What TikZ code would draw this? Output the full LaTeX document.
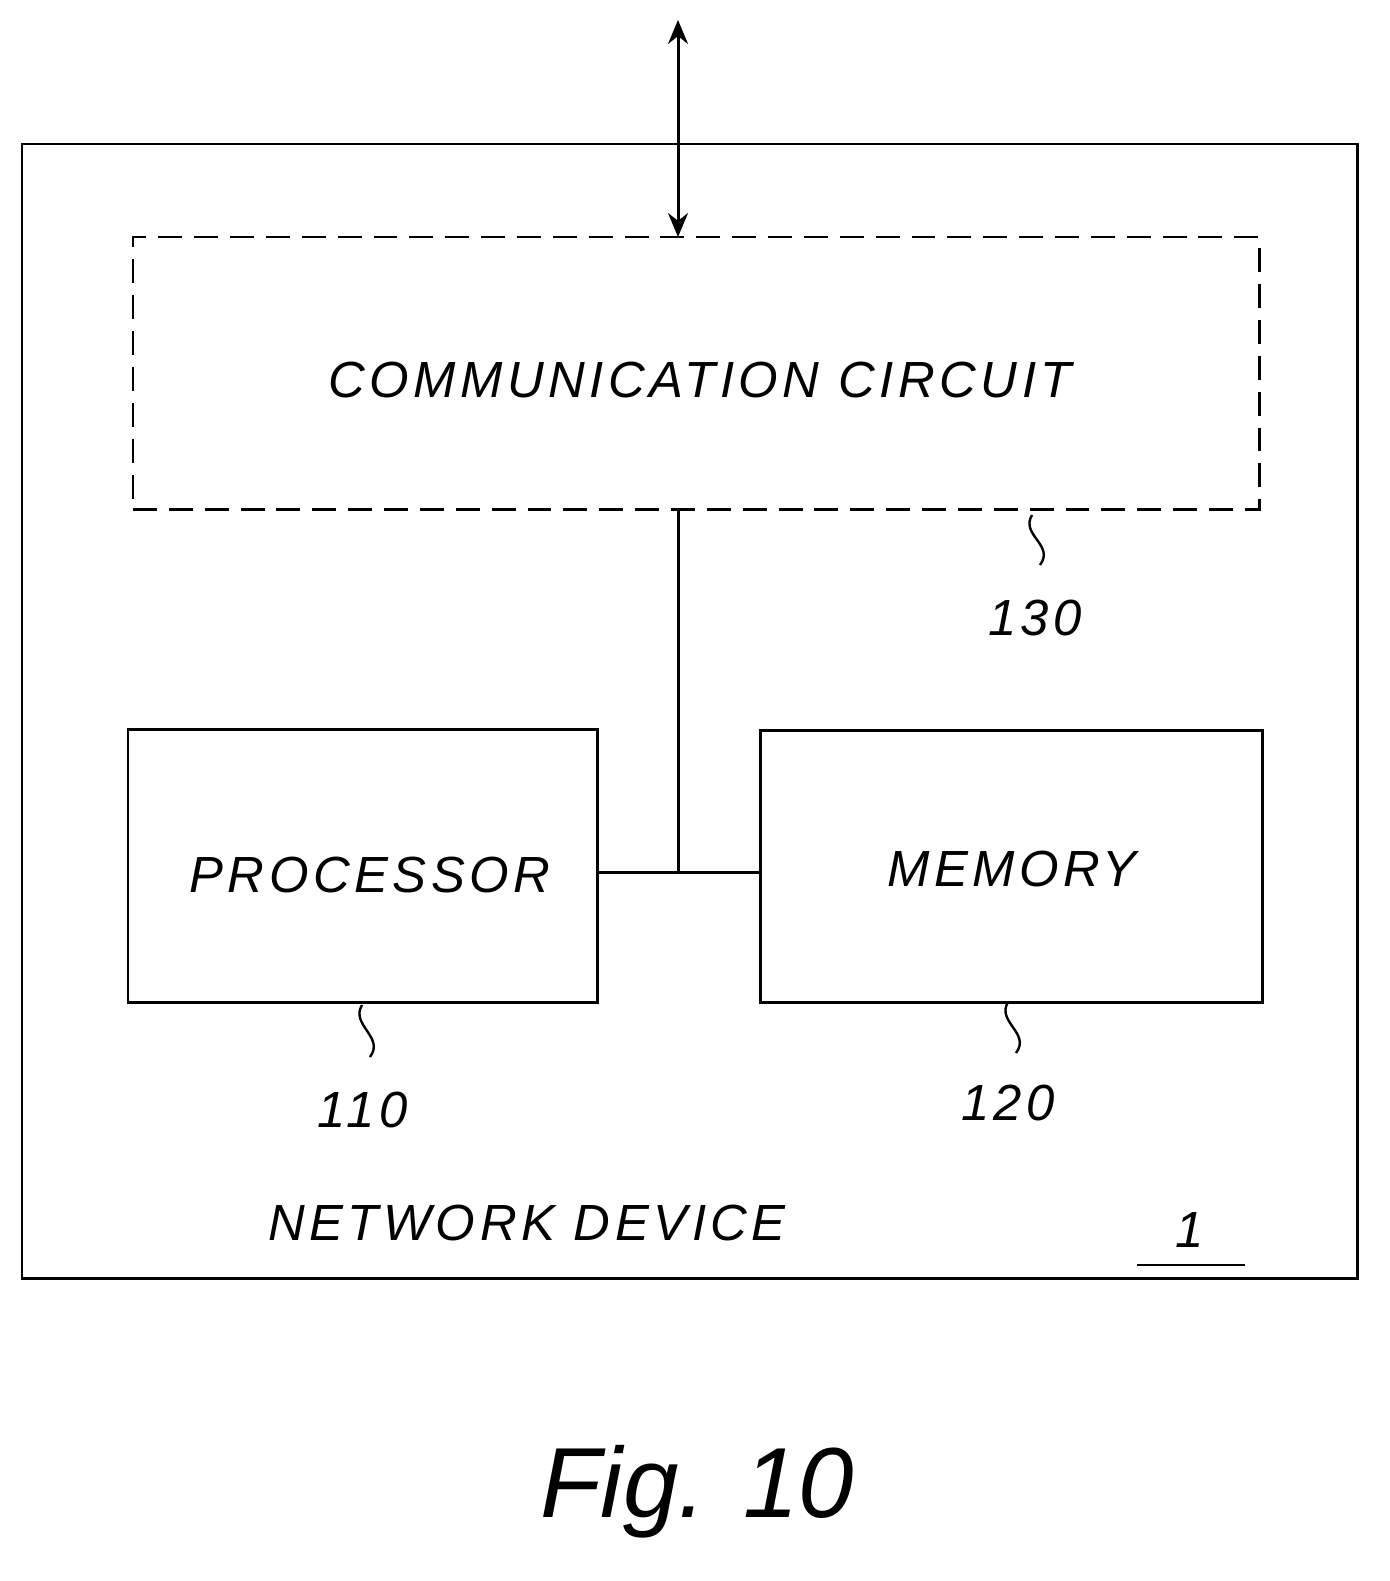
\documentclass[tikz,border=0pt]{standalone}
\usepackage{fontspec}
\setmainfont{Liberation Sans}
\usetikzlibrary{arrows.meta}
\begin{document}
\begin{tikzpicture}[x=1bp,y=-1bp,line width=3pt,
  lbl/.style={font=\fontsize{51}{55}\selectfont\itshape\addfontfeatures{LetterSpace=9},inner sep=0pt},
  box/.style={draw,inner sep=0pt},
  sq/.style={line width=2.4pt}]
\useasboundingbox (0,0) rectangle (1390,1581);
\draw (22,144) rectangle (1357,1278);
\node[box,dashed,dash pattern=on 24pt off 12pt,minimum width=1126bp,minimum height=272bp] (comm) at (696,373) {};
\node[lbl] at (700,380) {COMMUNICATION CIRCUIT};
\node[box,minimum width=469bp,minimum height=273bp] (proc) at (362.5,865.5) {};
\node[lbl] at (370,875) {PROCESSOR};
\node[box,minimum width=502bp,minimum height=272bp] (mem) at (1011,866) {};
\node[lbl] at (1012,869) {MEMORY};
\coordinate (top) at (678,20);
\coordinate (ctop) at (678,237);
\coordinate (cbot) at (678,509);
\coordinate (j) at (678,872);
\draw[{Stealth[length=24pt,width=20pt]}-{Stealth[length=24pt,width=20pt]}] (ctop) -- (top);
\draw (cbot) -- (j);
\draw (proc.east |- j) -- (mem.west |- j);
\draw[sq] (1032,515) .. controls (1020,535) and (1055,545) .. (1040,565);
\node[lbl] at (1035,618) {130};
\draw[sq] (362,1005) .. controls (350,1025) and (385,1037) .. (370,1057);
\node[lbl] at (363,1110) {110};
\draw[sq] (1008,1002) .. controls (996,1022) and (1031,1033) .. (1016,1053);
\node[lbl] at (1008,1103) {120};
\node[lbl] at (527,1223) {NETWORK DEVICE};
\node[lbl] at (1190,1230) {1};
\draw[line width=2.4pt] (1137,1265) -- (1245,1265);
\node[inner sep=0pt,font=\fontsize{100}{110}\selectfont\itshape] at (697,1492) {Fig. 10};
\end{tikzpicture}
\end{document}
